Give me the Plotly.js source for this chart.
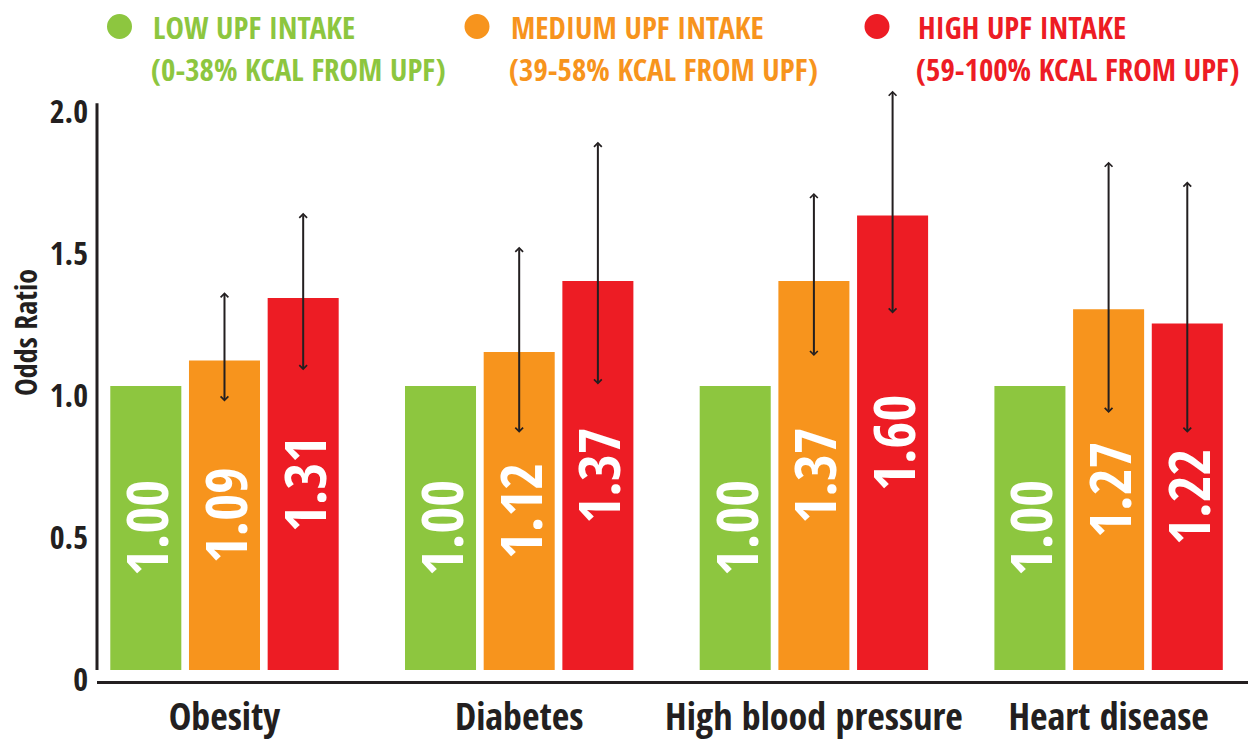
<!DOCTYPE html>
<html>
<head>
<meta charset="utf-8">
<script src="https://cdn.plot.ly/plotly-3.0.1.min.js"></script>
<style>html,body{margin:0;padding:0;background:#fff;}#chart{width:1248px;height:742px;}</style>
</head>
<body>
<div id="chart"></div>
<script>
// ---- data ----
const categories = ['Obesity', 'Diabetes', 'High blood pressure', 'Heart disease'];
const seriesNames = ['LOW UPF INTAKE', 'MEDIUM UPF INTAKE', 'HIGH UPF INTAKE'];
const seriesRanges = ['(0-38% KCAL FROM UPF)', '(39-58% KCAL FROM UPF)', '(59-100% KCAL FROM UPF)'];
const lowOR = [1.00, 1.00, 1.00, 1.00];
const mediumOR = [1.09, 1.12, 1.37, 1.27];
const highOR = [1.31, 1.37, 1.60, 1.22];
const mediumLower = [0.94, 0.83, 1.10, 0.90];
const mediumUpper = [1.33, 1.49, 1.68, 1.79];
const highLower = [1.05, 1.00, 1.25, 0.83];
const highUpper = [1.61, 1.86, 2.04, 1.72];
const yTickVals = [0, 0.5, 1.0, 1.5, 2.0];
const yTickText = ['0', '0.5', '1.0', '1.5', '2.0'];
const yTitle = 'Odds Ratio';

// ---- style ----
const colors = ['#8dc63f', '#f7941d', '#ed1c24'];
const dark = '#231f20';
const FONT = '"Open Sans Condensed", "Roboto Condensed", "Liberation Sans Narrow", sans-serif';
const W = 1248, H = 742;
const M = {l: 97, r: 0, t: 85, b: 61};
const barWidth = 0.241, barStep = 0.267;

const xIdx = categories.map((c, i) => i);
const valueSets = [lowOR, mediumOR, highOR];

const traces = valueSets.map((vals, j) => ({
  type: 'bar',
  x: xIdx,
  y: vals,
  width: barWidth,
  offset: (j - 1) * barStep - barWidth / 2,
  marker: {color: colors[j], line: {width: 0}},
  texttemplate: '%{y:.2f}',
  textposition: 'inside',
  insidetextanchor: 'middle',
  textangle: -90,
  constraintext: 'none',
  textfont: {family: FONT, size: 58, color: '#ffffff', weight: 700},
  hoverinfo: 'skip',
  showlegend: false
}));

const annotations = [];
// error arrows
[[mediumLower, mediumUpper, 1], [highLower, highUpper, 2]].forEach(([lo, hi, j]) => {
  xIdx.forEach(i => {
    const xc = i + (j - 1) * barStep;
    annotations.push({
      xref: 'x', yref: 'y', axref: 'x', ayref: 'y',
      x: xc, y: hi[i], ax: xc, ay: lo[i],
      text: '', showarrow: true,
      arrowside: 'end+start', arrowhead: 4, startarrowhead: 4,
      arrowsize: 0.75, startarrowsize: 0.75,
      arrowwidth: 2, arrowcolor: dark,
      standoff: 0, startstandoff: 0
    });
  });
});

// legend and axis title (layout only)
const pw = W - M.l - M.r, ph = H - M.t - M.b;
const px2x = p => (p - M.l) / pw;
const px2y = p => (H - M.b - p) / ph;
const legendCircleX = [119.5, 477, 877];
const legendTextX = [151, 509, 916];
const shapes = [];
seriesNames.forEach((name, j) => {
  shapes.push({
    type: 'circle', xref: 'paper', yref: 'paper',
    xsizemode: 'pixel', ysizemode: 'pixel',
    xanchor: px2x(legendCircleX[j]), yanchor: px2y(26.5),
    x0: -12.5, x1: 12.5, y0: -12.5, y1: 12.5,
    fillcolor: colors[j], line: {width: 0}
  });
  annotations.push({
    xref: 'paper', yref: 'paper', x: px2x(legendTextX[j]), y: px2y(27),
    xanchor: 'left', yanchor: 'middle', showarrow: false, text: name,
    font: {family: FONT, size: 31, color: colors[j], weight: 700}
  });
  annotations.push({
    xref: 'paper', yref: 'paper', x: px2x(legendTextX[j] - 2), y: px2y(69),
    xanchor: 'left', yanchor: 'middle', showarrow: false, text: seriesRanges[j],
    font: {family: FONT, size: 31, color: colors[j], weight: 700}
  });
});
annotations.push({
  xref: 'paper', yref: 'paper', x: px2x(25), y: px2y(333),
  xanchor: 'center', yanchor: 'middle', textangle: -90, showarrow: false,
  text: yTitle, font: {family: FONT, size: 30, color: dark, weight: 700}
});
// y axis line (starts at zero, as in the original)
shapes.push({
  type: 'line', xref: 'paper', yref: 'y', x0: 0, x1: 0, y0: 0, y1: 1.996,
  line: {color: dark, width: 3}
});

const layout = {
  width: W, height: H,
  margin: M,
  paper_bgcolor: '#ffffff', plot_bgcolor: '#ffffff',
  barmode: 'overlay',
  showlegend: false,
  xaxis: {
    range: [-0.4326, 3.473],
    tickvals: xIdx, ticktext: categories, tickangle: 0,
    ticks: '', showgrid: false, zeroline: false,
    showline: true, linewidth: 3, linecolor: dark,
    ticklabelstandoff: 0,
    tickfont: {family: FONT, size: 38, color: dark, weight: 700},
    fixedrange: true
  },
  yaxis: {
    range: [-0.0387, 2.0599],
    tickvals: yTickVals, ticktext: yTickText,
    ticks: '', showgrid: false, zeroline: false, showline: false,
    ticklabelshift: 10, ticklabelstandoff: 8,
    tickfont: {family: FONT, size: 32, color: dark, weight: 700},
    fixedrange: true
  },
  shapes: shapes,
  annotations: annotations
};

Plotly.newPlot('chart', traces, layout, {displayModeBar: false, staticPlot: true});
</script>
</body>
</html>
